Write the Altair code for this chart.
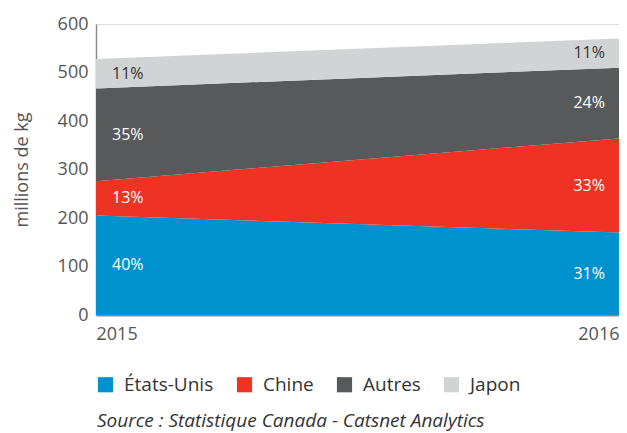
import altair as alt
import pandas as pd

years = [2015, 2016]
series = ["États-Unis", "Chine", "Autres", "Japon"]
colors = ["#0092cf", "#ee3224", "#58595b", "#d1d3d4"]
values = {
    "États-Unis": [205, 170],
    "Chine": [71, 194],
    "Autres": [191, 146],
    "Japon": [61, 60],
}
pct_labels = {
    "États-Unis": ["40%", "31%"],
    "Chine": ["13%", "33%"],
    "Autres": ["35%", "24%"],
    "Japon": ["11%", "11%"],
}
text_colors = ["white", "white", "white", "#333333"]
source = "Source : Statistique Canada - Catsnet Analytics"
FONT = "Open Sans"

rows = []
for yi, yr in enumerate(years):
    base = 0
    for si, s in enumerate(series):
        v = values[s][yi]
        rows.append({"year": yr, "serie": s, "order": si, "value": v,
                     "mid": base + v / 2, "label": pct_labels[s][yi],
                     "tcolor": text_colors[si]})
        base += v
df = pd.DataFrame(rows)

x_enc = alt.X("year:Q", scale=alt.Scale(domain=[2015, 2016], nice=False, zero=False),
              axis=alt.Axis(values=years, format="d", title=None, labelFlush=True,
                            labelFontSize=18, labelColor="#555555", labelFont=FONT,
                            domainColor="#8a8a8a", domainWidth=2, ticks=False, grid=False,
                            labelPadding=10))

area = alt.Chart(df).mark_area(opacity=1).encode(
    x=x_enc,
    y=alt.Y("value:Q", stack="zero", scale=alt.Scale(domain=[0, 600]),
            axis=alt.Axis(values=[0, 100, 200, 300, 400, 500, 600], title="millions de kg",
                          titleFontSize=18, titleFontWeight="normal", titleColor="#555555",
                          titleFont=FONT, titlePadding=26,
                          labelFontSize=18, labelColor="#555555", labelFont=FONT,
                          domainColor="#8a8a8a", domainWidth=1.5, ticks=False, grid=False,
                          labelPadding=8)),
    color=alt.Color("serie:N", scale=alt.Scale(domain=series, range=colors),
                    legend=alt.Legend(title=None, orient="none", legendX=0, legendY=351,
                                      direction="horizontal", symbolType="square",
                                      symbolSize=230, symbolStrokeWidth=0, symbolOpacity=1,
                                      labelFontSize=19, labelColor="#333333", labelFont=FONT,
                                      columnPadding=21, labelOffset=9)),
    order=alt.Order("order:Q"),
)

left = alt.Chart(df).transform_filter(alt.datum.year == 2015).mark_text(
    align="left", baseline="middle", dx=16, fontSize=16, font=FONT
).encode(x="year:Q", y="mid:Q", text="label:N", color=alt.Color("tcolor:N", scale=None))

right = alt.Chart(df).transform_filter(alt.datum.year == 2016).mark_text(
    align="right", baseline="middle", dx=-14, fontSize=16, font=FONT
).encode(x="year:Q", y="mid:Q", text="label:N", color=alt.Color("tcolor:N", scale=None))

src = alt.Chart(pd.DataFrame({"t": [source]})).mark_text(
    align="left", baseline="middle", fontSize=19, fontStyle="italic", font=FONT, color="#333333"
).encode(x=alt.value(1), y=alt.value(397), text="t:N")

chart = alt.layer(area, left, right, src).properties(
    width=523, height=291,
    padding={"left": 88, "top": 16, "right": 0, "bottom": 118},
    autosize=alt.AutoSizeParams(type="none"),
).configure_view(stroke=None).configure(background="white")

chart.save("out.html", embed_options={"renderer": "svg", "actions": False})
